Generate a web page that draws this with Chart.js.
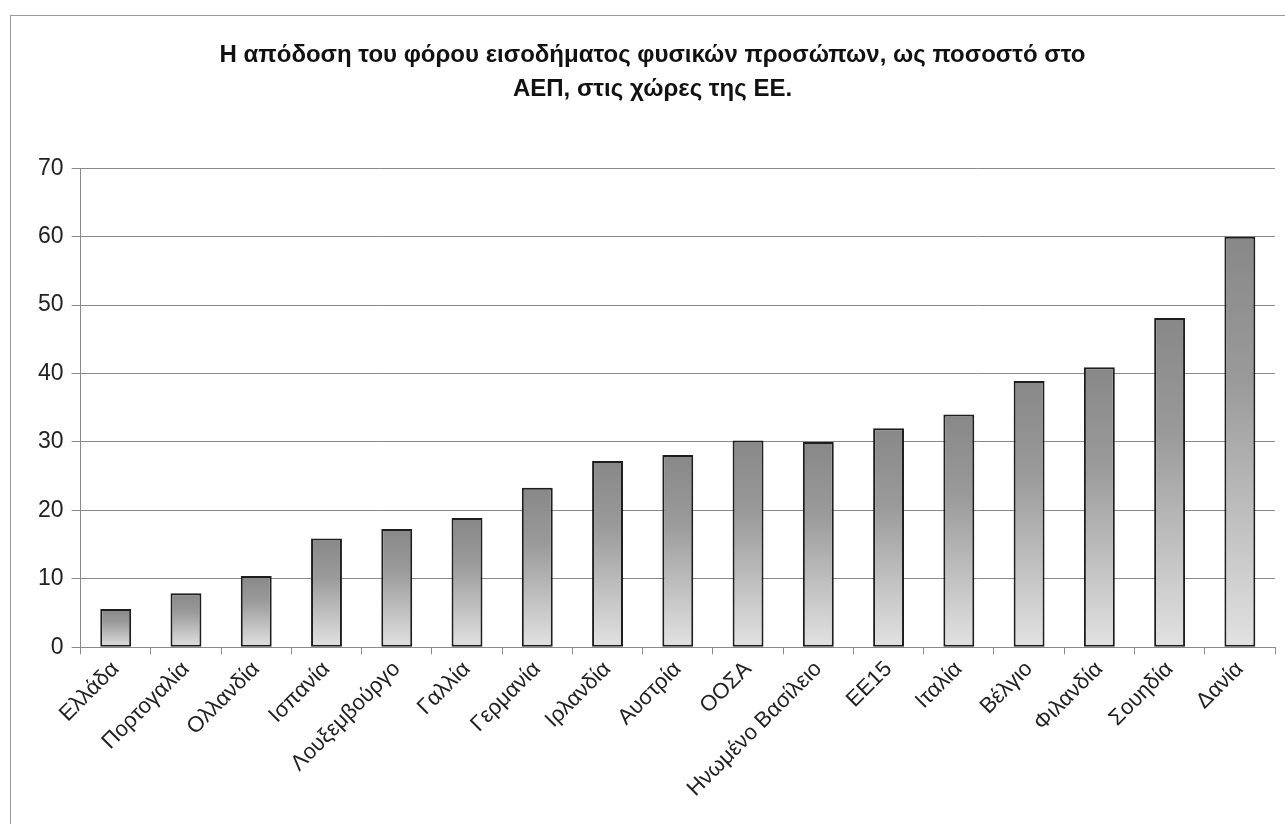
<!DOCTYPE html>
<html lang="el">
<head>
<meta charset="utf-8">
<title>Φόρος εισοδήματος φυσικών προσώπων</title>
<script src="https://cdn.jsdelivr.net/npm/chart.js@4"></script>
<style>
    html, body { margin: 0; padding: 0; background: #fff; }
    #wrap { width: 1285px; height: 824px; position: relative; }
</style>
</head>
<body>
<div id="wrap"><canvas id="taxChart"></canvas></div>
<script>
// ========== Data ==========
const countries = [
    'Ελλάδα', 'Πορτογαλία', 'Ολλανδία', 'Ισπανία', 'Λουξεμβούργο',
    'Γαλλία', 'Γερμανία', 'Ιρλανδία', 'Αυστρία', 'ΟΟΣΑ',
    'Ηνωμένο Βασίλειο', 'ΕΕ15', 'Ιταλία', 'Βέλγιο', 'Φιλανδία',
    'Σουηδία', 'Δανία'
];
const taxShare = [5.6, 7.9, 10.4, 15.9, 17.3, 18.9, 23.3, 27.2, 28.1, 30.2, 30.0, 32.0, 34.0, 38.9, 40.9, 48.1, 60.0];
const yMin = 0;
const yMax = 70;
const yStep = 10;

const titleLines = [
    'Η απόδοση του φόρου εισοδήματος φυσικών προσώπων, ως ποσοστό στο',
    'ΑΕΠ, στις χώρες της ΕΕ.'
];

// ========== Per-bar vertical gradient ==========
function barGradient(context) {
    const chart = context.chart;
    const { ctx, chartArea, scales } = chart;
    if (!chartArea) return '#aaaaaa';
    const v = context.raw;
    const top = scales.y.getPixelForValue(v);
    const bottom = scales.y.getPixelForValue(0);
    const g = ctx.createLinearGradient(0, top, 0, bottom);
    g.addColorStop(0, '#888888');
    g.addColorStop(0.35, '#9a9a9a');
    g.addColorStop(1, '#e2e2e2');
    return g;
}

// ========== Outer frame ==========
const framePlugin = {
    id: 'frame',
    beforeDraw(chart) {
        const ctx = chart.ctx;
        ctx.save();
        ctx.fillStyle = '#ffffff';
        ctx.fillRect(0, 0, chart.width, chart.height);
        ctx.strokeStyle = '#9a9a9a';
        ctx.lineWidth = 1;
        ctx.strokeRect(10.5, 15.5, chart.width + 10, chart.height + 10);
        ctx.restore();
    }
};

const FONT = "'Liberation Sans', Arial, sans-serif";

new Chart(document.getElementById('taxChart'), {
    type: 'bar',
    data: {
        labels: countries,
        datasets: [{
            data: taxShare,
            backgroundColor: barGradient,
            borderColor: '#1e1e1e',
            borderWidth: 2,
            borderSkipped: false,
            barPercentage: 0.44,
            categoryPercentage: 1.0
        }]
    },
    options: {
        responsive: true,
        maintainAspectRatio: false,
        animation: false,
        layout: { padding: { left: 30, right: 10, top: 39, bottom: 20 } },
        plugins: {
            legend: { display: false },
            tooltip: { enabled: false },
            title: {
                display: true,
                text: titleLines,
                color: '#111',
                font: { family: FONT, size: 24, weight: 'bold', lineHeight: 1.4 },
                padding: { top: 0, bottom: 62 }
            }
        },
        scales: {
            x: {
                grid: {
                    display: true,
                    offset: true,
                    drawOnChartArea: false,
                    tickLength: 7,
                    color: '#8a8a8a'
                },
                border: { display: true, color: '#8a8a8a', width: 1 },
                ticks: {
                    autoSkip: false,
                    minRotation: 45,
                    maxRotation: 45,
                    color: '#222',
                    padding: 2,
                    font: { family: FONT, size: 22 }
                }
            },
            y: {
                min: yMin,
                max: yMax,
                ticks: {
                    stepSize: yStep,
                    color: '#222',
                    padding: 8,
                    font: { family: FONT, size: 23 }
                },
                grid: {
                    color: '#8a8a8a',
                    tickLength: 9,
                    lineWidth: 1
                },
                border: { display: true, color: '#8a8a8a', width: 1 }
            }
        }
    },
    plugins: [framePlugin]
});
</script>
</body>
</html>
